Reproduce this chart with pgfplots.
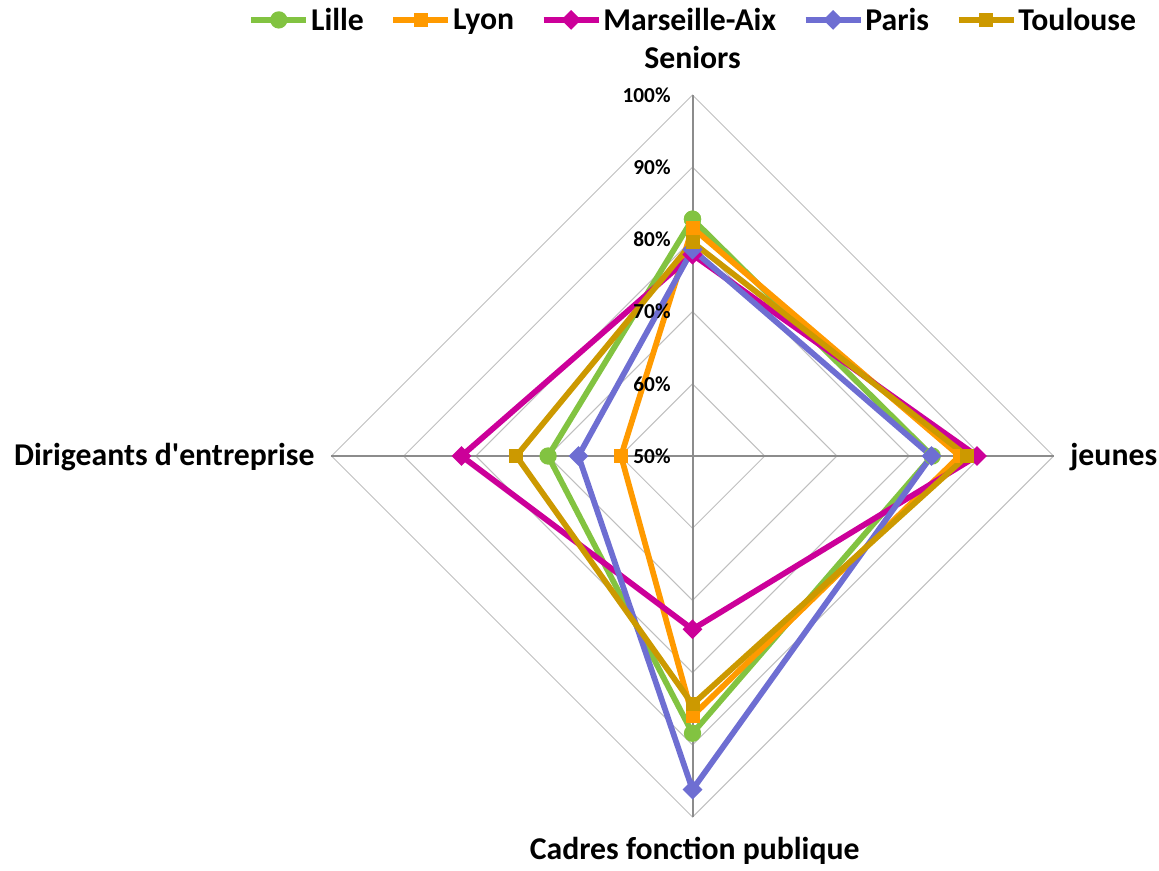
\documentclass[border=0pt]{standalone}
\usepackage{fontspec}
\setmainfont{Carlito}
\usepackage{pgfplots}
\usepackage{pgfplotstable}
\pgfplotsset{compat=1.18}
\definecolor{clille}{HTML}{82C341}
\definecolor{clyon}{HTML}{FF9A00}
\definecolor{cmars}{HTML}{CC0099}
\definecolor{cparis}{HTML}{6E6ED2}
\definecolor{ctoul}{HTML}{CC9900}
\definecolor{cgrid}{HTML}{BFBFBF}
\definecolor{cspoke}{HTML}{8C8C8C}
\pgfplotstableread{
cat ang Lille Lyon Marseille Paris Toulouse
S 90 82.8 81.6 77.9 78.6 79.6
J 0 83.2 87.0 89.4 83.1 88.0
C 270 88.4 86.0 74.0 96.2 84.4
D 180 70.0 59.9 82.0 65.8 74.4
S 90 82.8 81.6 77.9 78.6 79.6
}\radar
\newcommand{\radarplot}[2]{\addplot[#1] table[x expr={cos(\thisrow{ang})*(\thisrow{#2}-50)}, y expr={sin(\thisrow{ang})*(\thisrow{#2}-50)}] {\radar};}
\newcommand{\bigfont}{\bfseries\fontsize{23.8}{28}\selectfont}
\newcommand{\tickfont}{\bfseries\fontsize{16}{19}\selectfont}
\begin{document}
\begin{tikzpicture}
\begin{axis}[
  x=5.415pt, y=5.415pt,
  xmin=-95.91, xmax=64.61, ymin=-57.34, ymax=63.16,
  hide axis, clip=false,
  legend columns=5,
  legend style={at={(axis cs:-61.5,60.4)}, anchor=west, draw=none, fill=none,
    inner sep=0pt, outer sep=0pt, font=\bigfont,
    nodes={inner sep=1.5pt},
    /tikz/every even column/.append style={column sep=18.5pt}},
  legend image code/.code={\draw[mark repeat=2,mark phase=2,#1] plot coordinates {(0pt,0pt) (20.6pt,0pt) (41.2pt,0pt)};},
  every axis plot/.append style={line width=4.3pt, line join=miter},
]
\coordinate (bl) at (rel axis cs:0,0);
\coordinate (tr) at (rel axis cs:1,1);
% grid diamonds
\addplot[forget plot, cgrid, line width=0.75pt] coordinates {(10,0)(0,10)(-10,0)(0,-10)(10,0)};
\addplot[forget plot, cgrid, line width=0.75pt] coordinates {(20,0)(0,20)(-20,0)(0,-20)(20,0)};
\addplot[forget plot, cgrid, line width=0.75pt] coordinates {(30,0)(0,30)(-30,0)(0,-30)(30,0)};
\addplot[forget plot, cgrid, line width=0.75pt] coordinates {(40,0)(0,40)(-40,0)(0,-40)(40,0)};
\addplot[forget plot, cgrid, line width=0.75pt] coordinates {(50,0)(0,50)(-50,0)(0,-50)(50,0)};
% spokes
\addplot[forget plot, cspoke, line width=1.5pt] coordinates {(0,0)(0,50)};
\addplot[forget plot, cspoke, line width=1.5pt] coordinates {(0,0)(50,0)};
\addplot[forget plot, cspoke, line width=1.5pt] coordinates {(0,0)(0,-50)};
\addplot[forget plot, cspoke, line width=1.5pt] coordinates {(0,0)(-50,0)};
% series
\radarplot{clille, mark=*, mark size=4.3pt, mark options={solid}}{Lille}
\addlegendentry{Lille}
\radarplot{clyon, mark=square*, mark size=3.1pt, mark options={solid}}{Lyon}
\addlegendentry{Lyon}
\radarplot{cmars, mark=square*, mark size=3.1pt, mark options={solid, rotate=45}}{Marseille}
\addlegendentry{Marseille-Aix}
\radarplot{cparis, mark=square*, mark size=3.1pt, mark options={solid, rotate=45}}{Paris}
\addlegendentry{Paris}
\radarplot{ctoul, mark=square*, mark size=3.1pt, mark options={solid}}{Toulouse}
\addlegendentry{Toulouse}
% tick labels
\node[anchor=east, inner sep=0pt, font=\tickfont] at (axis cs:-3,0) {50\%};
\node[anchor=east, inner sep=0pt, font=\tickfont] at (axis cs:-3,10) {60\%};
\node[anchor=east, inner sep=0pt, font=\tickfont] at (axis cs:-3,20) {70\%};
\node[anchor=east, inner sep=0pt, font=\tickfont] at (axis cs:-3,30) {80\%};
\node[anchor=east, inner sep=0pt, font=\tickfont] at (axis cs:-3,40) {90\%};
\node[anchor=east, inner sep=0pt, font=\tickfont] at (axis cs:-3,50) {100\%};
% category labels
\node[anchor=base, inner sep=0pt, font=\bigfont] at (axis cs:0,53.7) {Seniors};
\node[anchor=base west, inner sep=0pt, font=\bigfont] at (axis cs:52.3,-1.25) {jeunes};
\node[anchor=base east, inner sep=0pt, font=\bigfont] at (axis cs:-52.3,-1.25) {Dirigeants d\textquotesingle entreprise};
\node[anchor=base, inner sep=0pt, font=\bigfont] at (axis cs:0.3,-55.9) {Cadres fonction publique};
\end{axis}
\pgfresetboundingbox
\path (bl) rectangle (tr);
\end{tikzpicture}
\end{document}
